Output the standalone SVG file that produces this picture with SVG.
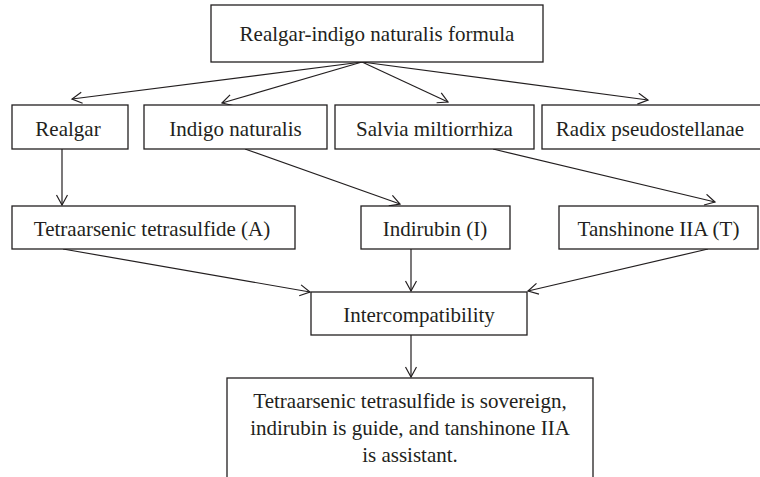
<svg xmlns="http://www.w3.org/2000/svg" width="760" height="477" viewBox="0 0 760 477">
<defs>
<style>
.box{fill:#fff;stroke:#231f20;stroke-width:1.3}
.t{font-family:"Liberation Serif","Times New Roman",serif;font-size:21px;fill:#231f20;text-anchor:middle}
.c{fill:none;stroke:#231f20;stroke-width:1.2}
</style>
<marker id="ah" markerWidth="14" markerHeight="14" refX="11" refY="6" orient="auto" markerUnits="userSpaceOnUse">
<path d="M1,0.5 L11,6 L1,11.5" fill="none" stroke="#231f20" stroke-width="1.2"/>
</marker>
</defs>
<rect width="760" height="477" fill="#fff"/>
<g id="connectors">
<line class="c" x1="362" y1="62" x2="72" y2="99" marker-end="url(#ah)"/>
<line class="c" x1="362" y1="62" x2="222" y2="103" marker-end="url(#ah)"/>
<line class="c" x1="362" y1="62" x2="448" y2="102" marker-end="url(#ah)"/>
<line class="c" x1="362" y1="62" x2="648" y2="100" marker-end="url(#ah)"/>
<line class="c" x1="62" y1="149" x2="62" y2="205" marker-end="url(#ah)"/>
<line class="c" x1="245" y1="149" x2="400" y2="204" marker-end="url(#ah)"/>
<line class="c" x1="493" y1="149" x2="715" y2="202" marker-end="url(#ah)"/>
<line class="c" x1="63" y1="249" x2="310" y2="292" marker-end="url(#ah)"/>
<line class="c" x1="411" y1="249" x2="411" y2="291" marker-end="url(#ah)"/>
<line class="c" x1="708" y1="249" x2="528" y2="291" marker-end="url(#ah)"/>
<line class="c" x1="411" y1="335" x2="411" y2="377" marker-end="url(#ah)"/>
</g>
<g id="formula"><rect class="box" x="211" y="5" width="332" height="57"/><text class="t" x="377" y="41">Realgar-indigo naturalis formula</text></g>
<g id="realgar"><rect class="box" x="12" y="105" width="116" height="44"/><text class="t" x="68" y="136">Realgar</text></g>
<g id="indigo"><rect class="box" x="144" y="105" width="183" height="44"/><text class="t" x="235.5" y="136">Indigo naturalis</text></g>
<g id="salvia"><rect class="box" x="335" y="105" width="199" height="44"/><text class="t" x="434.5" y="136">Salvia miltiorrhiza</text></g>
<g id="radix"><rect class="box" x="542" y="105" width="225" height="44"/><text class="t" x="650" y="136">Radix pseudostellanae</text></g>
<g id="tetra"><rect class="box" x="12" y="206" width="283" height="43"/><text class="t" x="152" y="236">Tetraarsenic tetrasulfide (A)</text></g>
<g id="indirubin"><rect class="box" x="361" y="206" width="149" height="43"/><text class="t" x="435" y="236">Indirubin (I)</text></g>
<g id="tanshinone"><rect class="box" x="559" y="206" width="199" height="43"/><text class="t" x="658.5" y="236">Tanshinone IIA (T)</text></g>
<g id="intercompatibility"><rect class="box" x="311" y="292" width="216" height="43"/><text class="t" x="419" y="322">Intercompatibility</text></g>
<g id="conclusion"><rect class="box" x="227" y="378" width="366" height="110"/>
<text class="t" x="410" y="408">Tetraarsenic tetrasulfide is sovereign,</text>
<text class="t" x="410" y="435">indirubin is guide, and tanshinone IIA</text>
<text class="t" x="410" y="462">is assistant.</text></g>
</svg>
